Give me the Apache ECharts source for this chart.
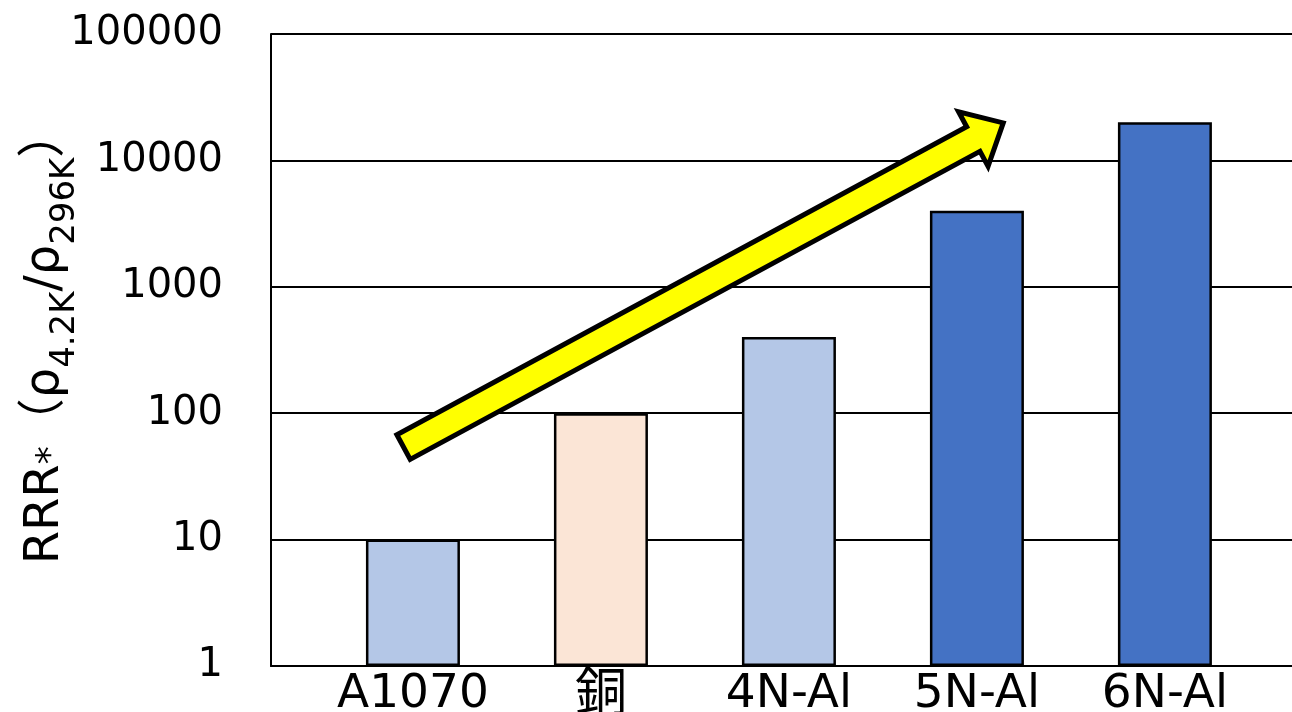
<!DOCTYPE html>
<html>
<head>
<meta charset="utf-8">
<script src="https://cdn.jsdelivr.net/npm/echarts@6/dist/echarts.min.js"></script>
<style>
html,body{margin:0;padding:0;background:#fff;}
#chart{width:1292px;height:712px;}
</style>
</head>
<body>
<div id="chart"></div>
<script>
// ---- data ----
const categories = ['A1070', '銅', '4N-Al', '5N-Al', '6N-Al'];
const rrrValues = [10, 100, 400, 4000, 20000];
const barColors = ['#B4C7E7', '#FBE5D6', '#B4C7E7', '#4472C4', '#4472C4'];
const yTicks = [1, 10, 100, 1000, 10000, 100000];
// trend arrow (in data space: [category position, RRR])
const arrowFrom = [-0.05, 54];
const arrowTo = [3.14, 19800];

const FONT = '"DejaVu Sans", "Noto Sans CJK JP", sans-serif';
const CJK = '"Noto Sans CJK JP", sans-serif';
const chart = echarts.init(document.getElementById('chart'), null, {renderer: 'canvas'});

const catPositions = categories.map((c, i) => i);

const option = {
  backgroundColor: '#fff',
  animation: false,
  grid: {left: 271, right: 0, top: 34, bottom: 46, containLabel: false, outerBoundsMode: 'none'},
  xAxis: {
    type: 'value',
    min: -0.755,
    max: 4.676,
    splitLine: {show: false},
    axisTick: {show: false},
    axisLine: {show: true, onZero: false, lineStyle: {color: '#000', width: 2}},
    axisLabel: {
      customValues: catPositions,
      formatter: v => {
        const s = categories[Math.round(v)] || '';
        return /[\u3000-\u9fff]/.test(s) ? '{cjk|' + s + '}' : s;
      },
      fontFamily: FONT,
      fontSize: 47,
      color: '#000',
      margin: 5,
      rich: {
        cjk: {fontFamily: CJK, fontSize: 52, color: '#000', lineHeight: 40}
      }
    }
  },
  yAxis: {
    type: 'log',
    logBase: 10,
    min: yTicks[0],
    max: yTicks[yTicks.length - 1],
    axisLine: {show: true, onZero: false, lineStyle: {color: '#000', width: 2}},
    axisTick: {show: false},
    splitLine: {show: true, lineStyle: {color: '#000', width: 2}},
    axisLabel: {
      fontFamily: FONT,
      fontSize: 40,
      color: '#000',
      margin: 48,
      formatter: v => String(Math.round(v))
    },
    name: '{m|RRR}{sup|*}{m|（ρ}{sub|4.2K}{m|/ρ}{sub|296K}{m|）}',
    nameLocation: 'middle',
    nameGap: 189,
    nameRotate: 90,
    nameMoveOverlap: false,
    nameTextStyle: {
      color: '#000',
      fontFamily: FONT,
      padding: [0, 0, 0, 26],
      rich: {
        m: {fontSize: 48, fontFamily: FONT, color: '#000', verticalAlign: 'bottom', lineHeight: 48, padding: [8, 0, 12, 0]},
        sup: {fontSize: 36, fontFamily: FONT, color: '#000', verticalAlign: 'top', lineHeight: 34},
        sub: {fontSize: 34, fontFamily: FONT, color: '#000', verticalAlign: 'bottom', lineHeight: 36}
      }
    }
  },
  series: [{
    type: 'bar',
    barWidth: 94,
    data: rrrValues.map((v, i) => ({
      value: [i, v],
      itemStyle: {color: barColors[i], borderColor: '#000', borderWidth: 2.5}
    }))
  }]
};
chart.setOption(option);

function drawArrow() {
  const p0 = chart.convertToPixel({gridIndex: 0}, arrowFrom);
  const p1 = chart.convertToPixel({gridIndex: 0}, arrowTo);
  const dx = p1[0] - p0[0], dy = p1[1] - p0[1];
  const len = Math.sqrt(dx * dx + dy * dy);
  const ux = dx / len, uy = dy / len;
  const nx = -uy, ny = ux;
  const shaftHalf = 14, headHalf = 31, headLen = 34;
  const bx = p1[0] - ux * headLen, by = p1[1] - uy * headLen;
  const pts = [
    [p0[0] + nx * shaftHalf, p0[1] + ny * shaftHalf],
    [bx + nx * shaftHalf, by + ny * shaftHalf],
    [bx + nx * headHalf, by + ny * headHalf],
    [p1[0], p1[1]],
    [bx - nx * headHalf, by - ny * headHalf],
    [bx - nx * shaftHalf, by - ny * shaftHalf],
    [p0[0] - nx * shaftHalf, p0[1] - ny * shaftHalf]
  ];
  chart.setOption({
    graphic: [{
      type: 'polygon',
      z: 100,
      shape: {points: pts},
      style: {fill: '#FFFF00', stroke: '#000', lineWidth: 5, lineJoin: 'miter'}
    }]
  });
}
drawArrow();
</script>
</body>
</html>
